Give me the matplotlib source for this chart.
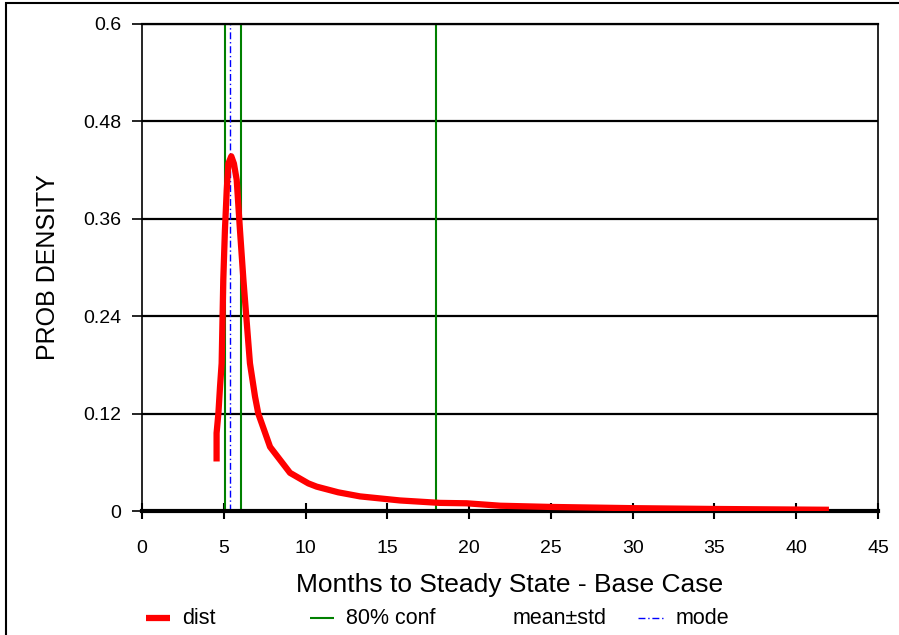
import matplotlib
matplotlib.use('Agg')
import matplotlib.pyplot as plt
from matplotlib.lines import Line2D
from matplotlib.patches import Rectangle

plt.rcParams['font.family'] = ['Liberation Sans', 'DejaVu Sans']

# Fitted density for months to steady state
months = [4.56, 4.56, 4.67, 4.77, 4.87, 4.91, 4.97, 5.07, 5.18, 5.28, 5.46,
          5.62, 5.79, 5.99, 6.20, 6.44, 6.60, 6.91, 7.11, 7.83, 9.05, 10.17,
          10.68, 12.0, 13.33, 15.77, 18.2, 19.85, 21.9, 25.0, 30.0, 35.0, 42.0]
density = [0.061, 0.096, 0.120, 0.153, 0.182, 0.223, 0.285, 0.346, 0.395, 0.428, 0.437,
           0.428, 0.408, 0.346, 0.285, 0.223, 0.182, 0.141, 0.120, 0.079, 0.047, 0.034,
           0.030, 0.023, 0.018, 0.013, 0.010, 0.0095, 0.0065, 0.005, 0.0035, 0.0025, 0.0015]

conf_80 = [5.07, 6.05, 17.98]
mode = 5.38

x_ticks = [0, 5, 10, 15, 20, 25, 30, 35, 40, 45]
y_ticks = [0, 0.12, 0.24, 0.36, 0.48, 0.6]
y_tick_labels = ['0', '0.12', '0.24', '0.36', '0.48', '0.6']

fig = plt.figure(figsize=(8.99, 6.35), dpi=100)
ax = fig.add_axes([142 / 899, 1 - 511 / 635, (878 - 142) / 899, (511 - 24) / 635])

ax.set_xlim(0, 45)
ax.set_ylim(0, 0.6)
ax.set_xticks(x_ticks)
ax.set_yticks(y_ticks)
ax.set_yticklabels(y_tick_labels)

ax.yaxis.grid(True, color='black', linewidth=1.6)
ax.set_axisbelow(True)

for xv in conf_80:
    ax.axvline(xv, color='#008000', linewidth=1.5, zorder=2)
ax.axvline(mode, color='blue', linewidth=1.0, linestyle=(0, (5, 2, 1, 2)), zorder=2)

ax.plot(months, density, color='red', linewidth=4.5, solid_capstyle='butt', zorder=3)

for side in ['left', 'right']:
    ax.spines[side].set_linewidth(1.2)
ax.spines['top'].set_linewidth(1.6)
ax.spines['bottom'].set_linewidth(3.0)

ax.tick_params(axis='x', direction='inout', length=12, width=1.5, pad=15, labelsize=14)
ax.tick_params(axis='y', direction='out', length=7, width=1.2, pad=8, labelsize=14)

ax.set_xlabel('Months to Steady State - Base Case', fontsize=19, va='center')
ax.xaxis.set_label_coords(0.5, (511 - 585) / 487)
ax.set_ylabel('PROB DENSITY', fontsize=18, va='center')
ax.yaxis.set_label_coords((48 - 142) / 736, 0.5)

# legend row along the bottom
ly = 1 - 618 / 635
entries = [
    (146, 170, 'red', 4.5, '-', 'dist', 182),
    (310, 334, '#008000', 1.5, '-', '80% conf', 346),
    (None, None, None, None, None, 'mean\u00b1std', 513),
    (638, 663, 'blue', 1.0, (0, (5, 2, 1, 2)), 'mode', 676),
]
for x0, x1, col, lw, ls, label, tx in entries:
    if x0 is not None:
        fig.add_artist(Line2D([x0 / 899, x1 / 899], [ly, ly], color=col,
                              linewidth=lw, linestyle=ls, solid_capstyle='butt'))
    fig.text(tx / 899, ly, label, fontsize=15.5, va='center', ha='left')

# outer frame
fig.add_artist(Rectangle((6 / 899, -0.2), 1.5, 1.2 - 3 / 635, transform=fig.transFigure,
                         fill=False, edgecolor='black', linewidth=1.5, clip_on=False))

fig.savefig('out.png', dpi=100)
